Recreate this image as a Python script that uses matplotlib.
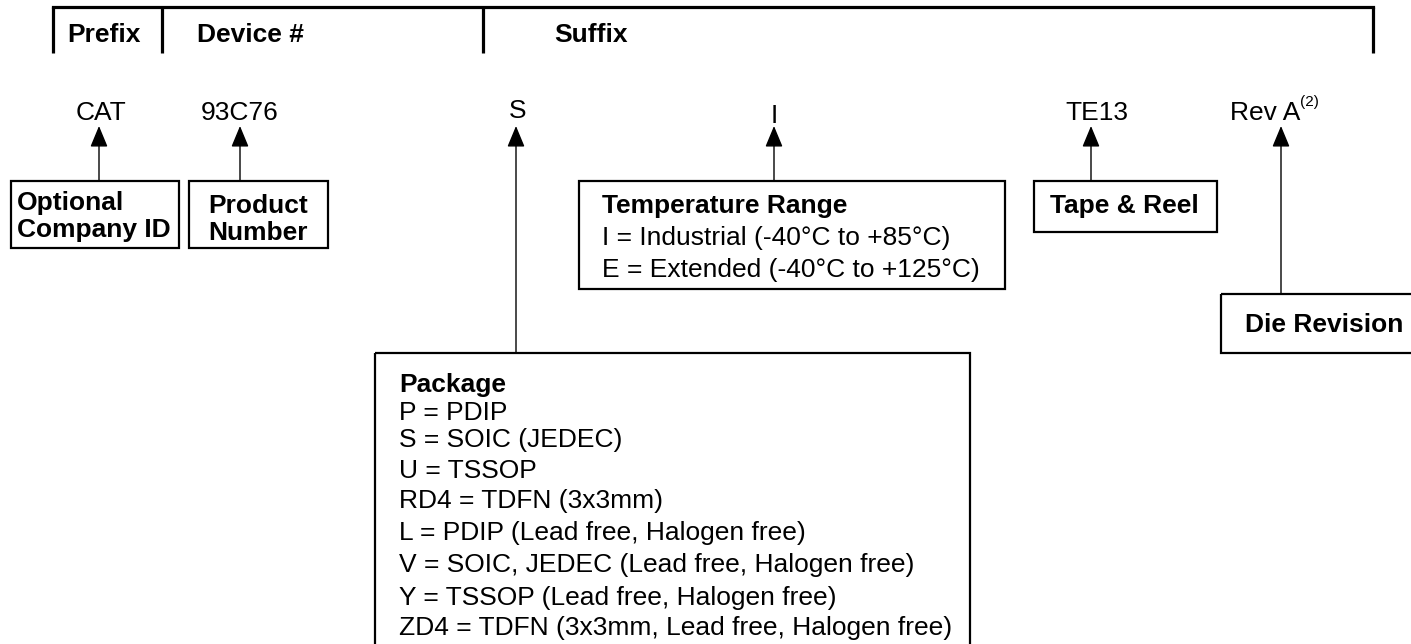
import matplotlib
matplotlib.use("Agg")
from matplotlib import pyplot as plt
from matplotlib.patches import Rectangle

plt.rcParams['font.family'] = ['Liberation Sans', 'DejaVu Sans']

headers = ["Prefix", "Device #", "Suffix"]
header_x = [67, 197, 554]
header_ticks = [53, 162, 483, 1373]

codes = ["CAT", "93C76", "S", "I", "TE13", "Rev A"]
code_x = [101, 240, 518, 774, 1097, 1265]
code_base = [120, 120, 118, 123, 120, 120]
arrow_x = [99, 240, 516, 774, 1091, 1281]
arrow_bottom = [181, 181, 353, 181, 181, 294]

# box: left, top, right, bottom
boxes = [(11, 181, 179, 248), (189, 181, 328, 248), (579, 181, 1005, 289),
         (1034, 181, 1217, 232), (1221, 294, 1425, 353), (375, 353, 970, 660)]

box_titles = [["Optional", "Company ID"], ["Product", "Number"], ["Temperature Range"],
              ["Tape & Reel"], ["Die Revision"], ["Package"]]
title_x = [17, 208, 602, 1050, 1245, 399]
title_base = [[210, 237], [213, 240], [213], [213], [332], [392]]

temp_lines = ["I = Industrial (-40\u00b0C to +85\u00b0C)", "E = Extended (-40\u00b0C to +125\u00b0C)"]
temp_base = [245, 277]

pkg_lines = ["P = PDIP", "S = SOIC (JEDEC)", "U = TSSOP", "RD4 = TDFN (3x3mm)",
             "L = PDIP (Lead free, Halogen free)", "V = SOIC, JEDEC (Lead free, Halogen free)",
             "Y = TSSOP (Lead free, Halogen free)", "ZD4 = TDFN (3x3mm, Lead free, Halogen free)"]
pkg_base = [420, 447, 478, 508, 540, 572, 605, 635]

fs = 19
fig = plt.figure(figsize=(14.11, 6.44), dpi=100)
ax = fig.add_axes([0, 0, 1, 1])
ax.set_xlim(0, 1411)
ax.set_ylim(644, 0)
ax.axis('off')

# header bracket
ax.plot([header_ticks[0], header_ticks[-1]], [7, 7], color='black', lw=2.3, solid_capstyle='projecting')
for x in header_ticks:
    ax.plot([x, x], [7, 53], color='black', lw=2.3, solid_capstyle='butt')
for t, x in zip(headers, header_x):
    ax.text(x, 42, t, fontsize=fs, fontweight='bold', va='baseline', ha='left')

for t, x, y in zip(codes, code_x, code_base):
    ax.text(x, y, t, fontsize=fs, va='baseline', ha='center')
ax.text(1300, 106, "(2)", fontsize=11, va='baseline', ha='left')

for x, yb in zip(arrow_x, arrow_bottom):
    ax.annotate('', xy=(x, 126), xytext=(x, yb),
                arrowprops=dict(arrowstyle='-|>,head_length=13,head_width=5.4', mutation_scale=1,
                                lw=1.0, color='black', shrinkA=0, shrinkB=0))

for (l, t, r, b) in boxes:
    ax.add_patch(Rectangle((l, t), r - l, b - t, fill=False, ec='black', lw=1.6))

for lines, x, ys in zip(box_titles, title_x, title_base):
    for t, y in zip(lines, ys):
        ax.text(x, y, t, fontsize=fs, fontweight='bold', va='baseline', ha='left')

for t, y in zip(temp_lines, temp_base):
    ax.text(602, y, t, fontsize=fs, va='baseline', ha='left')
for t, y in zip(pkg_lines, pkg_base):
    ax.text(399, y, t, fontsize=fs, va='baseline', ha='left')

plt.savefig("out.png", dpi=100)
